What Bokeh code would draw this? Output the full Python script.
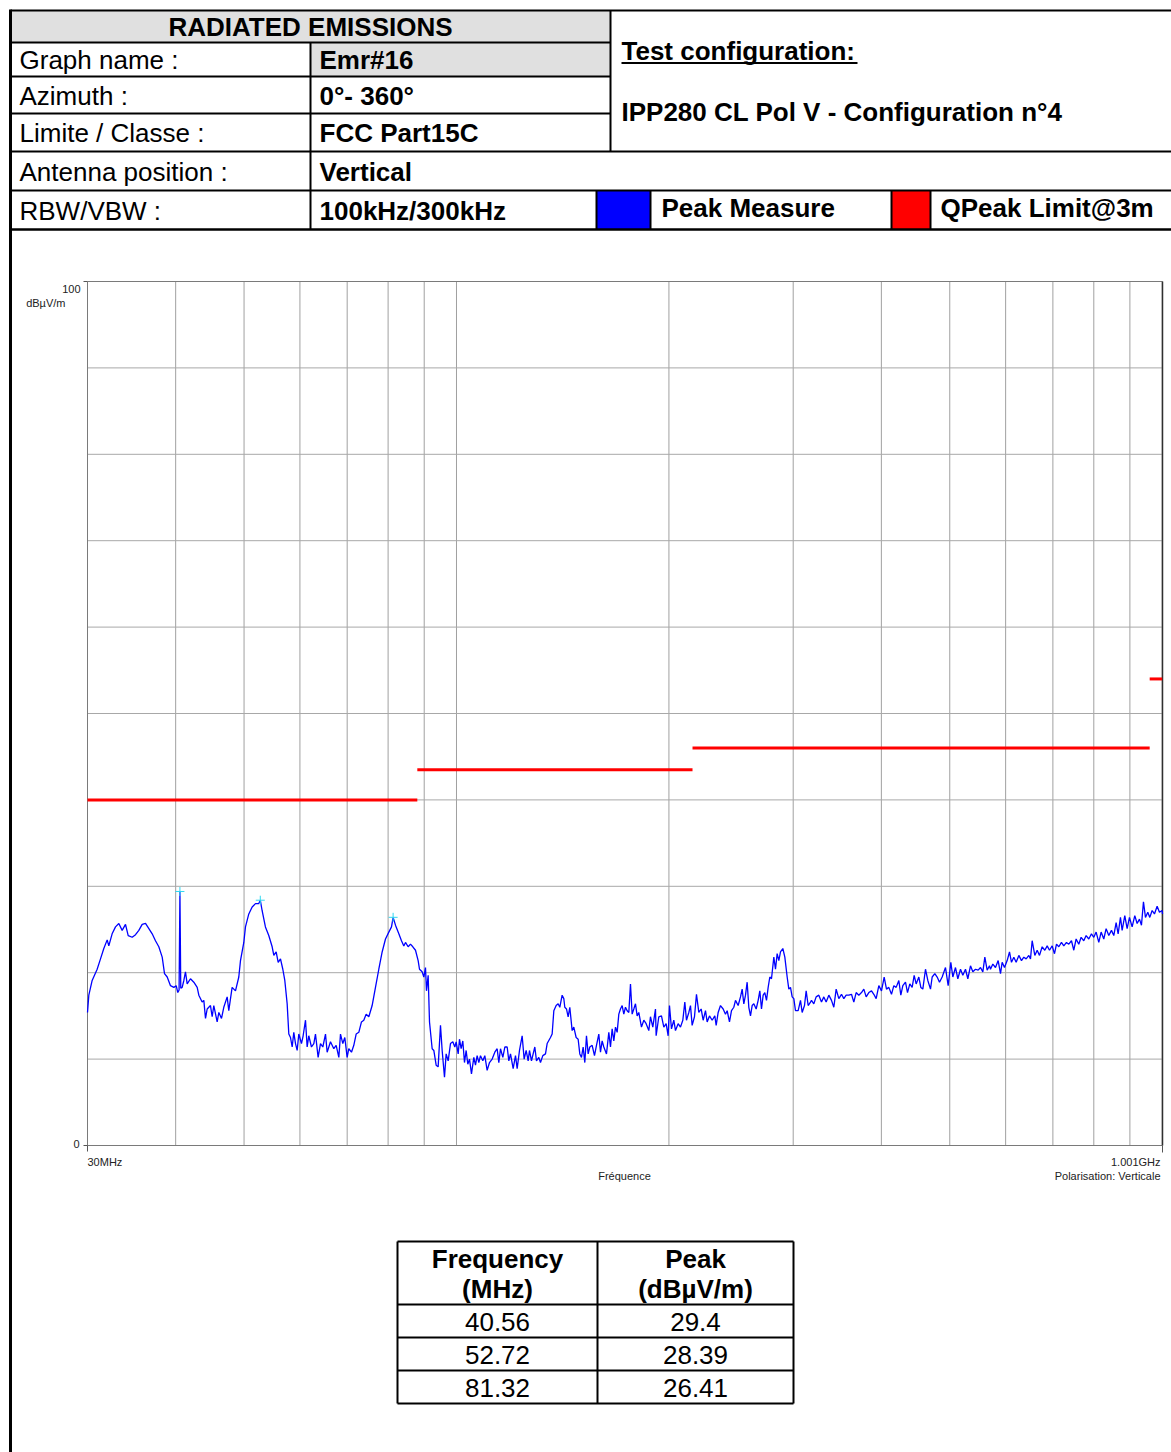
import math
from bokeh.plotting import figure
from bokeh.models import Range1d, LogScale
from bokeh.core.properties import value
from bokeh.embed import file_html
from bokeh.resources import INLINE

FONT = value("Liberation Sans")

# ---------------- data ----------------
# Peak trace, MHz / dBuV/m, in sweep order
freq_a = [30.0, 30.13, 30.46, 30.96, 31.30, 31.64, 31.99, 32.16, 32.51, 32.87, 33.23, 33.59, 33.96, 34.26,
          34.71, 35.09, 35.47, 35.86, 36.25, 36.65, 37.05, 37.45, 37.86, 38.28, 38.57, 38.91, 39.33, 39.76,
          40.07, 40.28, 40.45, 40.56, 40.67, 40.86, 41.08, 41.30, 41.53, 41.98, 42.44, 42.91, 43.14, 43.61,
          43.85, 44.09, 44.33, 44.81, 45.06, 45.30, 45.80, 46.05, 46.45, 46.80, 47.32, 47.57, 48.09, 48.62,
          49.15, 49.42, 49.96, 50.23, 50.78, 51.34, 51.90, 52.46, 52.72, 53.03, 53.61, 54.20]
level_a = [15.4, 17.4, 19.1, 20.4, 21.6, 22.8, 23.8, 23.1, 24.5, 25.3, 25.7, 24.9, 25.6, 24.3,
           24.1, 24.4, 24.9, 25.6, 25.7, 25.1, 24.5, 23.7, 23.0, 21.8, 19.9, 19.5, 18.5, 18.3,
           18.5, 17.7, 18.0, 29.4, 18.2, 18.3, 19.1, 20.1, 18.7, 19.3, 18.9, 18.3, 17.4, 16.6,
           16.8, 14.7, 15.8, 16.2, 14.9, 16.2, 14.3, 15.4, 14.7, 16.0, 17.2, 15.6, 18.3, 17.9,
           19.5, 21.4, 23.5, 25.3, 26.8, 27.6, 28.0, 28.0, 28.39, 27.2, 25.3, 24.3]

freq_b = [54.80, 55.10, 55.52, 55.89, 56.31, 56.74, 57.11, 57.55, 57.86, 58.18, 58.50, 58.81, 59.14, 59.46,
          59.78, 60.30, 60.63, 61.10, 61.43, 61.76, 62.30, 62.78, 63.12, 63.67, 64.16, 64.65, 65.22, 65.57,
          66.29, 67.01, 67.53, 68.12, 68.49, 69.01, 69.46, 69.99, 70.37, 70.99, 71.53, 72.08, 72.71, 73.34,
          73.90, 74.47, 75.12, 75.94, 76.77, 77.61, 78.46, 79.32, 80.19, 80.89, 81.32, 81.95, 82.85, 83.57,
          84.21, 84.67, 85.41, 86.06, 86.72, 87.48, 88.24, 88.63, 89.40, 89.89, 90.38, 90.67, 91.17, 91.57,
          92.37, 92.87, 93.58, 94.19, 94.91, 95.43, 96.16, 96.68, 97.32, 98.06]
level_b = [23.0, 22.0, 22.4, 21.2, 21.6, 20.4, 19.1, 16.4, 12.9, 12.5, 11.4, 13.1, 11.8, 11.0,
           12.9, 11.8, 12.7, 14.5, 11.4, 12.7, 11.4, 11.8, 12.9, 10.2, 11.8, 11.4, 12.9, 10.8,
           12.0, 11.2, 11.6, 10.2, 12.9, 11.8, 12.5, 10.2, 11.2, 10.8, 11.6, 12.9, 13.1, 14.3,
           14.5, 15.2, 14.9, 16.2, 18.3, 20.4, 22.4, 23.9, 24.7, 25.3, 26.41, 25.5, 24.5, 23.7,
           23.1, 23.5, 23.0, 23.3, 23.0, 22.6, 21.4, 20.4, 20.1, 19.5, 20.6, 17.9, 19.7, 14.3,
           11.2, 11.0, 9.3, 9.1, 13.9, 11.0, 7.9, 10.6, 9.8, 11.8]

freq_c = [98.81, 99.46, 99.89, 100.55, 100.98, 101.53, 102.08, 102.64, 103.20, 103.76,
          104.33, 105.01, 105.82, 106.39, 106.97, 107.56, 108.14, 108.97, 109.68, 110.52,
          111.37, 112.34, 113.32, 114.19, 114.81, 115.44, 116.32, 117.08, 117.98, 118.62,
          119.27, 120.31, 121.23, 121.89, 122.82, 123.89, 124.70, 125.52, 126.34, 126.89,
          127.72, 128.42, 129.12, 129.82, 130.81, 131.53, 132.53, 133.69, 134.42, 135.89,
          136.63, 137.38, 138.43, 139.33, 140.09, 141.16, 141.93, 142.39, 143.17, 143.95,
          144.73, 145.84, 146.63, 147.76, 148.73, 149.53, 150.35, 151.17, 152.00, 152.82,
          153.66, 154.49, 155.68, 156.87, 157.89, 159.10, 159.97, 160.84, 161.72, 163.13,
          164.38, 165.27, 166.18, 167.08, 167.99, 168.91, 169.83, 170.75, 171.69, 172.62,
          173.56, 174.51, 175.46, 176.42]
level_c = [12.0, 11.4, 12.0, 10.6, 12.3, 11.2, 12.1, 9.6, 11.0, 9.4,
           10.0, 8.3, 10.2, 9.3, 10.4, 9.6, 10.4, 9.8, 10.4, 8.7,
           9.6, 10.0, 10.8, 11.2, 9.6, 11.2, 10.2, 11.4, 11.4, 9.8,
           10.6, 8.9, 10.4, 8.9, 11.0, 12.7, 10.0, 11.0, 9.8, 11.0,
           9.8, 10.6, 11.4, 9.8, 10.2, 9.6, 10.4, 10.6, 11.8, 12.5,
           12.9, 15.6, 16.2, 16.4, 16.0, 17.4, 17.0, 16.0, 15.8, 14.9,
           16.0, 13.3, 13.7, 12.5, 12.3, 10.6, 10.2, 11.4, 9.6, 12.7,
           10.6, 11.4, 11.6, 10.4, 11.6, 12.9, 10.8, 12.1, 11.4, 10.6,
           13.1, 11.4, 13.5, 12.1, 13.7, 13.1, 15.2, 15.8, 16.2, 15.2,
           16.0, 15.6, 15.4, 18.7]

freq_d = [177.38, 178.35, 179.32, 180.30, 181.28, 182.86, 184.26, 185.67, 187.29, 188.31,
          189.75, 191.41, 191.83, 193.50, 195.19, 196.69, 198.19, 199.49, 200.36, 201.67,
          203.21, 204.32, 206.11, 207.68, 209.27, 210.64, 211.79, 213.41, 214.57, 215.74,
          217.39, 218.81, 220.49, 222.17, 223.63, 225.34, 226.57, 228.30, 230.29, 232.31,
          233.32, 234.85, 236.64, 238.71, 240.53, 241.85, 243.69, 245.29, 247.16, 248.51,
          250.68, 252.60, 253.98, 255.36, 256.76, 258.15, 259.56, 260.98, 262.40, 263.83,
          265.85, 267.59, 269.05, 270.52, 271.99, 273.47, 274.97, 276.47, 277.97, 279.49,
          281.63, 283.16, 284.70, 286.26, 287.82, 290.02, 291.92, 294.15, 295.75, 297.37,
          298.99, 300.62, 302.26, 304.90, 307.23, 308.90, 311.26, 312.96, 315.01, 317.42]
level_d = [15.2, 15.8, 16.4, 15.0, 15.4, 13.7, 14.5, 14.1, 13.3, 14.9,
           13.7, 15.8, 12.7, 14.9, 15.0, 13.7, 14.1, 12.7, 16.2, 13.5,
           14.5, 13.3, 14.1, 13.7, 14.5, 16.6, 14.5, 15.4, 16.2, 13.9,
           14.9, 17.5, 15.4, 15.8, 14.5, 15.6, 14.3, 15.0, 14.5, 15.0,
           13.9, 15.4, 16.2, 15.8, 15.2, 15.6, 14.3, 15.6, 16.0, 16.8,
           16.2, 17.2, 18.1, 16.4, 17.4, 18.9, 16.0, 15.0, 16.2, 16.4,
           15.8, 16.8, 17.9, 15.8, 17.4, 17.7, 16.8, 18.3, 19.5, 19.3,
           21.8, 20.4, 22.2, 21.4, 22.4, 22.8, 21.8, 19.5, 18.1, 18.3,
           17.2, 17.0, 15.6, 15.6, 16.8, 15.4, 16.2, 17.9, 16.2, 16.6]

freq_e = [318.45, 320.88, 323.33, 326.16, 329.01, 331.53, 334.06, 336.98, 339.92, 342.52,
          345.14, 348.16, 351.20, 353.88, 356.59, 359.71, 362.85, 365.62, 368.42, 371.64,
          374.88, 377.75, 380.64, 383.96, 387.32, 390.28, 393.26, 396.70, 400.17, 403.66,
          406.75, 409.86, 413.44, 416.60, 419.78, 423.45, 426.22, 429.01, 432.76, 435.60,
          438.92, 442.28, 445.18, 448.09, 452.00, 454.96, 457.94, 461.95, 465.48, 469.54,
          472.11, 476.23, 479.87, 483.54, 487.77, 493.10, 497.41, 501.75, 505.04, 509.45,
          513.35, 517.83, 521.79, 526.35, 530.38, 535.01, 539.10, 543.81, 548.56, 552.75,
          556.98, 560.62, 564.91, 569.23]
level_e = [16.8, 16.4, 17.2, 17.4, 16.6, 17.2, 16.6, 17.4, 16.8, 16.0,
           18.1, 17.0, 17.5, 17.0, 17.4, 17.4, 17.5, 16.6, 17.7, 17.4,
           17.7, 18.1, 17.2, 17.7, 17.9, 17.5, 17.0, 18.5, 17.9, 19.5,
           18.1, 18.3, 17.5, 18.5, 18.3, 19.1, 17.4, 18.5, 18.9, 17.7,
           18.7, 18.3, 19.7, 18.7, 19.5, 18.3, 18.1, 20.4, 19.1, 18.1,
           19.5, 19.9, 19.5, 18.9, 19.5, 20.6, 18.5, 21.2, 19.5, 20.6,
           19.3, 20.4, 19.7, 20.4, 19.3, 20.8, 20.1, 20.4, 20.3, 20.6,
           20.1, 21.8, 20.3, 20.8]

freq_f = [571.08, 575.45, 580.47, 585.55, 590.02, 593.24, 597.77, 602.99, 607.61, 611.58,
          616.26, 620.97, 626.40, 631.87, 636.70, 641.57, 647.17, 650.70, 654.25, 659.96,
          665.01, 670.09, 675.95, 681.85, 687.07, 692.32, 698.37, 703.70, 708.31, 713.73,
          719.87, 725.38, 731.72, 737.32, 743.77, 749.44, 755.17, 761.77, 767.59, 774.30,
          780.21, 787.03, 793.91, 799.98, 806.10, 813.14, 819.35, 826.51, 832.83, 840.11,
          847.45, 853.92, 860.45, 866.08, 872.69, 877.46, 885.12, 891.89, 898.71, 906.56,
          914.48, 921.47, 928.52, 934.60, 940.71, 946.88, 954.11, 960.37, 967.70, 975.10,
          983.62, 991.14, 999.80, 1001.0]
level_f = [20.4, 21.0, 20.6, 21.4, 19.9, 21.2, 20.6, 21.4, 22.4, 21.2,
           21.8, 21.2, 22.0, 21.4, 21.8, 21.6, 22.0, 21.6, 23.7, 22.0,
           22.6, 22.0, 23.0, 22.6, 23.1, 22.6, 23.1, 22.2, 23.3, 23.0,
           23.5, 23.1, 23.5, 23.3, 23.7, 22.6, 23.9, 23.3, 24.1, 23.7,
           24.3, 23.9, 24.5, 24.1, 24.7, 23.5, 24.7, 23.9, 25.1, 24.3,
           24.9, 24.3, 25.8, 24.5, 26.4, 24.9, 26.6, 25.1, 26.4, 25.3,
           26.6, 25.7, 26.2, 25.5, 28.2, 26.4, 27.0, 26.4, 27.2, 26.8,
           27.7, 27.0, 27.2, 26.8]

# FCC Part 15C quasi-peak limit @3m
limit_start = [30, 88, 216, 960]
limit_stop = [88, 216, 960, 1000]
limit_level = [40, 43.5, 46, 54]

# marked peaks (also listed in the table)
peak_freq = [40.56, 52.72, 81.32]
peak_level = [29.4, 28.39, 26.41]
peak_freq_text = ["40.56", "52.72", "81.32"]
peak_level_text = ["29.4", "28.39", "26.41"]

# axes
f_min, f_max = 30, 1001
db_min, db_max = 0, 100
grid_freqs = [40, 50, 60, 70, 80, 90, 100, 200, 300, 400, 500, 600, 700, 800, 900, 1000]
grid_levels = [10, 20, 30, 40, 50, 60, 70, 80, 90]
x_tick_labels = ["30MHz", "1.001GHz"]
y_tick_labels = ["0", "100"]
y_unit = "dBµV/m"
x_title = "Fréquence"
pol_text = "Polarisation: Verticale"

# header texts
title_text = "RADIATED EMISSIONS"
info_labels = ["Graph name :", "Azimuth :", "Limite / Classe :", "Antenna position :", "RBW/VBW :"]
info_values = ["Emr#16", "0°- 360°", "FCC Part15C", "Vertical", "100kHz/300kHz"]
config_title = "Test configuration:"
config_text = "IPP280 CL Pol V - Configuration n°4"
legend_names = ["Peak Measure", "QPeak Limit@3m"]
legend_colors = ["#0000FF", "#FF0000"]
table_head = [["Frequency", "(MHz)"], ["Peak", "(dBµV/m)"]]

freq_mhz = freq_a + freq_b + freq_c + freq_d + freq_e + freq_f
peak_dbuv = level_a + level_b + level_c + level_d + level_e + level_f

# ---------------- layout (pixels) ----------------
W, H = 1171, 1452
CX0, CX1, CY0, CY1 = 87, 1162, 281, 1145   # chart frame

p = figure(width=W, height=H, x_range=Range1d(0, W), y_range=Range1d(H, 0),
           output_backend="svg", toolbar_location=None, min_border=0,
           x_axis_location=None, y_axis_location=None, title=None)
p.grid.visible = False
p.outline_line_color = None
p.background_fill_color = "white"
p.border_fill_color = "white"

# scales for the chart: log frequency, linear level, aligned to the chart frame
lx0, lx1 = math.log10(f_min), math.log10(f_max)
dpx = (lx1 - lx0) / (CX1 - CX0)
p.extra_x_ranges = {"f": Range1d(10 ** (lx0 - CX0 * dpx), 10 ** (lx1 + (W - CX1) * dpx))}
p.extra_x_scales = {"f": LogScale()}
dpy = (db_max - db_min) / (CY1 - CY0)
p.extra_y_ranges = {"db": Range1d(db_min - (H - CY1) * dpy, db_max + CY0 * dpy)}
ch = dict(x_range_name="f", y_range_name="db")

TXT = dict(text_font=FONT, text_baseline="middle")

# ---------------- header table ----------------
GRAY = "#E0E0E0"
p.quad(left=[10, 310], right=[610, 610], top=[10, 42], bottom=[42, 76], fill_color=GRAY, line_color=None)
p.quad(left=[596, 891], right=[650, 930], top=[190, 190], bottom=[229, 229],
       fill_color=legend_colors, line_color=None)

hx0 = [10, 10, 10, 10, 10, 10, 310, 610, 596, 650, 891, 930]
hy0 = [10, 42, 76, 113, 151, 190, 42, 10, 190, 190, 190, 190]
hx1 = [1171, 610, 610, 610, 1171, 1171, 310, 610, 596, 650, 891, 930]
hy1 = [10, 42, 76, 113, 151, 190, 229, 151, 229, 229, 229, 229]
p.segment(x0=hx0, y0=hy0, x1=hx1, y1=hy1, line_color="black", line_width=2)
p.segment(x0=[10], y0=[229], x1=[1171], y1=[229], line_color="black", line_width=2.5)
p.segment(x0=[10], y0=[9], x1=[10], y1=[H], line_color="black", line_width=3)

p.text(x=[310], y=[26], text=[title_text], text_font_size="26px",
       text_font_style="bold", text_align="center", **TXT)
row_mid = [59, 95, 132.5, 171.5, 210]
p.text(x=[19] * 5, y=row_mid, text=info_labels, text_font_size="26px", text_align="left", **TXT)
p.text(x=[319] * 5, y=row_mid, text=info_values, text_font_size="26px",
       text_font_style="bold", text_align="left", **TXT)
p.text(x=[621, 621], y=[50, 111], text=[config_title, config_text],
       text_font_size="26px", text_font_style="bold", text_align="left", **TXT)
p.segment(x0=[621], y0=[62.5], x1=[857], y1=[62.5], line_color="black", line_width=2)
p.text(x=[661, 940], y=[207, 207], text=legend_names, text_font_size="26px",
       text_font_style="bold", text_align="left", **TXT)

# ---------------- chart ----------------
ng, nl = len(grid_freqs), len(grid_levels)
p.segment(x0=grid_freqs, x1=grid_freqs, y0=[db_min] * ng, y1=[db_max] * ng,
          line_color="#A0A0A0", line_width=1, **ch)
p.segment(x0=[f_min] * nl, x1=[f_max] * nl, y0=grid_levels, y1=grid_levels,
          line_color="#A8A8A8", line_width=1, **ch)
p.segment(x0=[f_min, f_min, f_min], x1=[f_min, f_max, f_max], y0=[db_min, db_min, db_max],
          y1=[db_max, db_min, db_max], line_color="#7A7A7A", line_width=1, **ch)
p.segment(x0=[f_max], x1=[f_max], y0=[db_min], y1=[db_max], line_color="#303030", line_width=1.5, **ch)

p.segment(x0=limit_start, x1=limit_stop, y0=limit_level, y1=limit_level,
          line_color="#FF0000", line_width=3, **ch)
p.line(freq_mhz, peak_dbuv, line_color="#0000FF", line_width=1.3, **ch)
p.scatter(peak_freq, peak_level, marker="cross", size=9, line_color="#30D8F0", line_width=1, **ch)

# ticks and tick labels
p.segment(x0=[CX0 - 4, CX0 - 4, CX0, CX1], y0=[CY0, CY1, CY1, CY1],
          x1=[CX0, CX0, CX0, CX1], y1=[CY0, CY1, CY1 + 6, CY1 + 7], line_color="#555555", line_width=1)
p.text(x=[80, 79], y=[CY0 + 7, CY1 - 2], text=[y_tick_labels[1], y_tick_labels[0]],
       text_font_size="11px", text_align="right", text_color="#222222", **TXT)
p.text(x=[65], y=[CY0 + 21], text=[y_unit],
       text_font_size="11px", text_align="right", text_color="#222222", **TXT)
p.text(x=[CX0], y=[CY1 + 16], text=[x_tick_labels[0]],
       text_font_size="11px", text_align="left", text_color="#222222", **TXT)
p.text(x=[1160, 1160], y=[CY1 + 16, CY1 + 30], text=[x_tick_labels[1], pol_text],
       text_font_size="11px", text_align="right", text_color="#222222", **TXT)
p.text(x=[624], y=[CY1 + 30], text=[x_title],
       text_font_size="11px", text_align="center", text_color="#222222", **TXT)

# ---------------- peak table ----------------
TX0, TXM, TX1 = 397, 597, 793
TY = [1241, 1304, 1337, 1370, 1403]
p.segment(x0=[TX0] * 5 + [TX0, TXM, TX1], x1=[TX1] * 5 + [TX0, TXM, TX1],
          y0=TY + [TY[0]] * 3, y1=TY + [TY[-1]] * 3, line_color="black", line_width=2)
p.text(x=[497, 497, 695, 695], y=[1258, 1288, 1258, 1288],
       text=[table_head[0][0], table_head[0][1], table_head[1][0], table_head[1][1]],
       text_font_size="26px", text_font_style="bold", text_align="center", **TXT)
row_y = [1321, 1354, 1387]
p.text(x=[497] * 3, y=row_y, text=peak_freq_text, text_font_size="26px", text_align="center", **TXT)
p.text(x=[695] * 3, y=row_y, text=peak_level_text, text_font_size="26px", text_align="center", **TXT)

open("out.html", "w").write(file_html(p, INLINE))
